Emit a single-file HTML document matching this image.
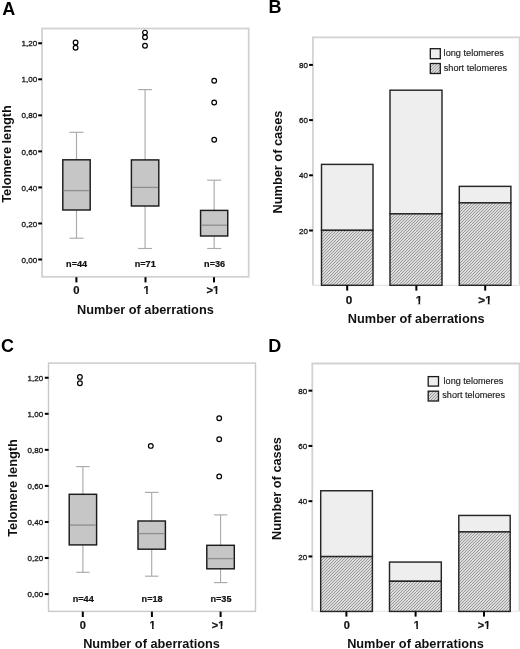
<!DOCTYPE html>
<html><head><meta charset="utf-8"><style>
html,body{margin:0;padding:0;background:#fff;}
body{width:520px;height:649px;overflow:hidden;}
svg{display:block;font-family:"Liberation Sans", sans-serif;will-change:transform;}
</style></head><body>
<svg width="520" height="649" viewBox="0 0 520 649">
<defs>
<pattern id="hatch" patternUnits="userSpaceOnUse" width="3" height="3">
<rect width="3" height="3" fill="#f8f8f8"/>
<path d="M-1,1 L1,-1 M0,3 L3,0 M2,4 L4,2" stroke="#969696" stroke-width="1.1"/>
</pattern>
</defs>
<rect width="520" height="649" fill="#fff"/>
<text x="2.2" y="14.7" font-size="18.0" font-weight="bold" text-anchor="start" fill="#000">A</text>
<rect x="42" y="28.5" width="206.7" height="248.3" fill="none" stroke="#d2d2d2" stroke-width="1.8"/>
<rect x="38.2" y="258.5" width="3.8" height="2" fill="#000"/>
<text x="37.2" y="262.65" font-size="8" font-weight="normal" text-anchor="end" fill="#1a1a1a" stroke="#1a1a1a" stroke-width="0.32">0,00</text>
<rect x="38.2" y="222.46" width="3.8" height="2" fill="#000"/>
<text x="37.2" y="226.61" font-size="8" font-weight="normal" text-anchor="end" fill="#1a1a1a" stroke="#1a1a1a" stroke-width="0.32">0,20</text>
<rect x="38.2" y="186.42000000000002" width="3.8" height="2" fill="#000"/>
<text x="37.2" y="190.57000000000002" font-size="8" font-weight="normal" text-anchor="end" fill="#1a1a1a" stroke="#1a1a1a" stroke-width="0.32">0,40</text>
<rect x="38.2" y="150.38" width="3.8" height="2" fill="#000"/>
<text x="37.2" y="154.53" font-size="8" font-weight="normal" text-anchor="end" fill="#1a1a1a" stroke="#1a1a1a" stroke-width="0.32">0,60</text>
<rect x="38.2" y="114.34" width="3.8" height="2" fill="#000"/>
<text x="37.2" y="118.49000000000001" font-size="8" font-weight="normal" text-anchor="end" fill="#1a1a1a" stroke="#1a1a1a" stroke-width="0.32">0,80</text>
<rect x="38.2" y="78.30000000000001" width="3.8" height="2" fill="#000"/>
<text x="37.2" y="82.45000000000002" font-size="8" font-weight="normal" text-anchor="end" fill="#1a1a1a" stroke="#1a1a1a" stroke-width="0.32">1,00</text>
<rect x="38.2" y="42.25999999999999" width="3.8" height="2" fill="#000"/>
<text x="37.2" y="46.40999999999999" font-size="8" font-weight="normal" text-anchor="end" fill="#1a1a1a" stroke="#1a1a1a" stroke-width="0.32">1,20</text>
<line x1="76.5" y1="132.3" x2="76.5" y2="159.8" stroke="#aaaaaa" stroke-width="1.15"/>
<line x1="76.5" y1="210.0" x2="76.5" y2="238.2" stroke="#aaaaaa" stroke-width="1.15"/>
<line x1="69.5" y1="132.3" x2="83.5" y2="132.3" stroke="#aaaaaa" stroke-width="1.15"/>
<line x1="69.5" y1="238.2" x2="83.5" y2="238.2" stroke="#aaaaaa" stroke-width="1.15"/>
<rect x="62.8" y="159.8" width="27.4" height="50.19999999999999" fill="#c6c6c6" stroke="#1c1c1c" stroke-width="1.45"/>
<line x1="63.55" y1="190.6" x2="89.45" y2="190.6" stroke="#8e8e8e" stroke-width="1.3"/>
<circle cx="75.6" cy="42.4" r="2.35" fill="none" stroke="#000" stroke-width="1.2"/>
<circle cx="75.6" cy="47.8" r="2.35" fill="none" stroke="#000" stroke-width="1.2"/>
<line x1="145.1" y1="89.6" x2="145.1" y2="159.9" stroke="#aaaaaa" stroke-width="1.15"/>
<line x1="145.1" y1="206.0" x2="145.1" y2="248.5" stroke="#aaaaaa" stroke-width="1.15"/>
<line x1="138.1" y1="89.6" x2="152.1" y2="89.6" stroke="#aaaaaa" stroke-width="1.15"/>
<line x1="138.1" y1="248.5" x2="152.1" y2="248.5" stroke="#aaaaaa" stroke-width="1.15"/>
<rect x="131.4" y="159.9" width="27.4" height="46.099999999999994" fill="#c6c6c6" stroke="#1c1c1c" stroke-width="1.45"/>
<line x1="132.15" y1="187.4" x2="158.04999999999998" y2="187.4" stroke="#8e8e8e" stroke-width="1.3"/>
<circle cx="145.0" cy="32.6" r="2.35" fill="none" stroke="#000" stroke-width="1.2"/>
<circle cx="145.0" cy="37.2" r="2.35" fill="none" stroke="#000" stroke-width="1.2"/>
<circle cx="145.0" cy="45.8" r="2.35" fill="none" stroke="#000" stroke-width="1.2"/>
<line x1="214.15" y1="180.2" x2="214.15" y2="210.4" stroke="#aaaaaa" stroke-width="1.15"/>
<line x1="214.15" y1="236.0" x2="214.15" y2="248.5" stroke="#aaaaaa" stroke-width="1.15"/>
<line x1="207.15" y1="180.2" x2="221.15" y2="180.2" stroke="#aaaaaa" stroke-width="1.15"/>
<line x1="207.15" y1="248.5" x2="221.15" y2="248.5" stroke="#aaaaaa" stroke-width="1.15"/>
<rect x="200.55" y="210.4" width="27.2" height="25.599999999999994" fill="#c6c6c6" stroke="#1c1c1c" stroke-width="1.45"/>
<line x1="201.3" y1="225.2" x2="227.0" y2="225.2" stroke="#8e8e8e" stroke-width="1.3"/>
<circle cx="214.2" cy="80.8" r="2.35" fill="none" stroke="#000" stroke-width="1.2"/>
<circle cx="214.2" cy="102.5" r="2.35" fill="none" stroke="#000" stroke-width="1.2"/>
<circle cx="214.2" cy="139.8" r="2.35" fill="none" stroke="#000" stroke-width="1.2"/>
<text x="76.6" y="266.6" font-size="9.1" font-weight="bold" text-anchor="middle" fill="#111" stroke="#111" stroke-width="0.22">n=44</text>
<text x="145.2" y="266.6" font-size="9.1" font-weight="bold" text-anchor="middle" fill="#111" stroke="#111" stroke-width="0.22">n=71</text>
<text x="214.6" y="266.6" font-size="9.1" font-weight="bold" text-anchor="middle" fill="#111" stroke="#111" stroke-width="0.22">n=36</text>
<rect x="75.4" y="277.2" width="2" height="5.2" fill="#000"/>
<text x="76.4" y="293.9" font-size="11.3" font-weight="bold" text-anchor="middle" fill="#111" stroke="#111" stroke-width="0.22">0</text>
<rect x="144.5" y="277.2" width="2" height="5.2" fill="#000"/>
<text x="146.7" y="293.9" font-size="11.3" font-weight="bold" text-anchor="middle" fill="#111" stroke="#111" stroke-width="0.22">1</text>
<rect x="143.37" y="291.25" width="2.78" height="3.35" fill="#fff"/>
<rect x="147.80" y="291.25" width="2.63" height="3.35" fill="#fff"/>
<rect x="213.0" y="277.2" width="2" height="5.2" fill="#000"/>
<text x="212.9" y="293.9" font-size="11.3" font-weight="bold" text-anchor="middle" fill="#111" stroke="#111" stroke-width="0.22">&gt;1</text>
<rect x="212.87" y="291.25" width="2.78" height="3.35" fill="#fff"/>
<rect x="217.30" y="291.25" width="2.63" height="3.35" fill="#fff"/>
<text x="145.4" y="313.5" font-size="12.75" font-weight="bold" text-anchor="middle" fill="#111">Number of aberrations</text>
<text x="11.2" y="154.0" font-size="12.75" font-weight="bold" text-anchor="middle" fill="#111" transform="rotate(-90 11.2 154.0)">Telomere length</text>
<text x="268.6" y="13.2" font-size="18.0" font-weight="bold" text-anchor="start" fill="#000">B</text>
<path d="M312.9,285.4 V37.3 H519.7 V285.4" fill="none" stroke="#d2d2d2" stroke-width="1.8"/>
<line x1="312.9" y1="285.4" x2="519.7" y2="285.4" stroke="#e4e4e4" stroke-width="1.1"/>
<rect x="309.09999999999997" y="229.5" width="3.8" height="2" fill="#000"/>
<text x="308.0" y="233.65" font-size="8" font-weight="normal" text-anchor="end" fill="#1a1a1a" stroke="#1a1a1a" stroke-width="0.32">20</text>
<rect x="309.09999999999997" y="174.3" width="3.8" height="2" fill="#000"/>
<text x="308.0" y="178.45000000000002" font-size="8" font-weight="normal" text-anchor="end" fill="#1a1a1a" stroke="#1a1a1a" stroke-width="0.32">40</text>
<rect x="309.09999999999997" y="119.1" width="3.8" height="2" fill="#000"/>
<text x="308.0" y="123.25" font-size="8" font-weight="normal" text-anchor="end" fill="#1a1a1a" stroke="#1a1a1a" stroke-width="0.32">60</text>
<rect x="309.09999999999997" y="63.900000000000006" width="3.8" height="2" fill="#000"/>
<text x="308.0" y="68.05000000000001" font-size="8" font-weight="normal" text-anchor="end" fill="#1a1a1a" stroke="#1a1a1a" stroke-width="0.32">80</text>
<rect x="321.5" y="164.388" width="51.5" height="65.952" fill="#eeeeee" stroke="#262626" stroke-width="1.45"/>
<rect x="321.5" y="230.34" width="51.5" height="54.96000000000001" fill="url(#hatch)" stroke="#262626" stroke-width="1.45"/>
<rect x="390.0" y="90.19200000000001" width="52.0" height="123.66" fill="#eeeeee" stroke="#262626" stroke-width="1.45"/>
<rect x="390.0" y="213.852" width="52.0" height="71.44800000000001" fill="url(#hatch)" stroke="#262626" stroke-width="1.45"/>
<rect x="459.3" y="186.372" width="51.599999999999966" height="16.488" fill="#eeeeee" stroke="#262626" stroke-width="1.45"/>
<rect x="459.3" y="202.86" width="51.599999999999966" height="82.44" fill="url(#hatch)" stroke="#262626" stroke-width="1.45"/>
<rect x="346.2" y="285.6" width="2" height="5.0" fill="#000"/>
<text x="349.0" y="304.0" font-size="11.7" font-weight="bold" text-anchor="middle" fill="#111" stroke="#111" stroke-width="0.25">0</text>
<rect x="415.35" y="285.6" width="2" height="5.0" fill="#000"/>
<text x="419.0" y="304.0" font-size="11.7" font-weight="bold" text-anchor="middle" fill="#111" stroke="#111" stroke-width="0.25">1</text>
<rect x="415.58" y="301.31" width="2.84" height="3.39" fill="#fff"/>
<rect x="420.13" y="301.31" width="2.70" height="3.39" fill="#fff"/>
<rect x="484.2" y="285.6" width="2" height="5.0" fill="#000"/>
<text x="485.0" y="304.0" font-size="11.7" font-weight="bold" text-anchor="middle" fill="#111" stroke="#111" stroke-width="0.25">&gt;1</text>
<rect x="485.00" y="301.31" width="2.84" height="3.39" fill="#fff"/>
<rect x="489.55" y="301.31" width="2.70" height="3.39" fill="#fff"/>
<text x="416.2" y="322.5" font-size="12.75" font-weight="bold" text-anchor="middle" fill="#111">Number of aberrations</text>
<text x="281.8" y="162.0" font-size="12.75" font-weight="bold" text-anchor="middle" fill="#111" transform="rotate(-90 281.8 162.0)">Number of cases</text>
<rect x="430.3" y="48.7" width="10" height="10" fill="#eeeeee" stroke="#1a1a1a" stroke-width="1.3"/>
<rect x="430.3" y="63.5" width="10" height="10" fill="url(#hatch)" stroke="#1a1a1a" stroke-width="1.3"/>
<text x="443.6" y="56.2" font-size="9.2" font-weight="normal" text-anchor="start" fill="#1a1a1a" stroke="#1a1a1a" stroke-width="0.15">long telomeres</text>
<text x="443.7" y="70.6" font-size="9.2" font-weight="normal" text-anchor="start" fill="#1a1a1a" stroke="#1a1a1a" stroke-width="0.15">short telomeres</text>
<text x="0.9" y="352.1" font-size="18.0" font-weight="bold" text-anchor="start" fill="#000">C</text>
<rect x="48.5" y="363.1" width="207.0" height="248.29999999999995" fill="none" stroke="#c9c9c9" stroke-width="1.4"/>
<rect x="44.800000000000004" y="593.1" width="3.8" height="2" fill="#000"/>
<text x="43.2" y="597.25" font-size="8" font-weight="normal" text-anchor="end" fill="#1a1a1a" stroke="#1a1a1a" stroke-width="0.32">0,00</text>
<rect x="44.800000000000004" y="557.04" width="3.8" height="2" fill="#000"/>
<text x="43.2" y="561.1899999999999" font-size="8" font-weight="normal" text-anchor="end" fill="#1a1a1a" stroke="#1a1a1a" stroke-width="0.32">0,20</text>
<rect x="44.800000000000004" y="520.98" width="3.8" height="2" fill="#000"/>
<text x="43.2" y="525.13" font-size="8" font-weight="normal" text-anchor="end" fill="#1a1a1a" stroke="#1a1a1a" stroke-width="0.32">0,40</text>
<rect x="44.800000000000004" y="484.92" width="3.8" height="2" fill="#000"/>
<text x="43.2" y="489.07" font-size="8" font-weight="normal" text-anchor="end" fill="#1a1a1a" stroke="#1a1a1a" stroke-width="0.32">0,60</text>
<rect x="44.800000000000004" y="448.86" width="3.8" height="2" fill="#000"/>
<text x="43.2" y="453.01" font-size="8" font-weight="normal" text-anchor="end" fill="#1a1a1a" stroke="#1a1a1a" stroke-width="0.32">0,80</text>
<rect x="44.800000000000004" y="412.8" width="3.8" height="2" fill="#000"/>
<text x="43.2" y="416.95" font-size="8" font-weight="normal" text-anchor="end" fill="#1a1a1a" stroke="#1a1a1a" stroke-width="0.32">1,00</text>
<rect x="44.800000000000004" y="376.74" width="3.8" height="2" fill="#000"/>
<text x="43.2" y="380.89" font-size="8" font-weight="normal" text-anchor="end" fill="#1a1a1a" stroke="#1a1a1a" stroke-width="0.32">1,20</text>
<line x1="82.9" y1="466.6" x2="82.9" y2="494.3" stroke="#aaaaaa" stroke-width="1.15"/>
<line x1="82.9" y1="544.9" x2="82.9" y2="572.3" stroke="#aaaaaa" stroke-width="1.15"/>
<line x1="76.2" y1="466.6" x2="89.60000000000001" y2="466.6" stroke="#aaaaaa" stroke-width="1.15"/>
<line x1="76.2" y1="572.3" x2="89.60000000000001" y2="572.3" stroke="#aaaaaa" stroke-width="1.15"/>
<rect x="69.2" y="494.3" width="27.4" height="50.599999999999966" fill="#c6c6c6" stroke="#1c1c1c" stroke-width="1.45"/>
<line x1="69.95" y1="525.1" x2="95.85000000000001" y2="525.1" stroke="#8e8e8e" stroke-width="1.3"/>
<circle cx="79.9" cy="376.9" r="2.35" fill="none" stroke="#000" stroke-width="1.2"/>
<circle cx="79.9" cy="383.3" r="2.35" fill="none" stroke="#000" stroke-width="1.2"/>
<line x1="151.7" y1="492.4" x2="151.7" y2="521.0" stroke="#aaaaaa" stroke-width="1.15"/>
<line x1="151.7" y1="549.2" x2="151.7" y2="576.2" stroke="#aaaaaa" stroke-width="1.15"/>
<line x1="145.0" y1="492.4" x2="158.39999999999998" y2="492.4" stroke="#aaaaaa" stroke-width="1.15"/>
<line x1="145.0" y1="576.2" x2="158.39999999999998" y2="576.2" stroke="#aaaaaa" stroke-width="1.15"/>
<rect x="138.0" y="521.0" width="27.4" height="28.200000000000045" fill="#c6c6c6" stroke="#1c1c1c" stroke-width="1.45"/>
<line x1="138.75" y1="533.6" x2="164.64999999999998" y2="533.6" stroke="#8e8e8e" stroke-width="1.3"/>
<circle cx="150.8" cy="445.9" r="2.35" fill="none" stroke="#000" stroke-width="1.2"/>
<line x1="220.55" y1="514.9" x2="220.55" y2="545.3" stroke="#aaaaaa" stroke-width="1.15"/>
<line x1="220.55" y1="568.8" x2="220.55" y2="582.6" stroke="#aaaaaa" stroke-width="1.15"/>
<line x1="213.85000000000002" y1="514.9" x2="227.25" y2="514.9" stroke="#aaaaaa" stroke-width="1.15"/>
<line x1="213.85000000000002" y1="582.6" x2="227.25" y2="582.6" stroke="#aaaaaa" stroke-width="1.15"/>
<rect x="206.8" y="545.3" width="27.5" height="23.5" fill="#c6c6c6" stroke="#1c1c1c" stroke-width="1.45"/>
<line x1="207.55" y1="558.6" x2="233.55" y2="558.6" stroke="#8e8e8e" stroke-width="1.3"/>
<circle cx="219.2" cy="418.2" r="2.35" fill="none" stroke="#000" stroke-width="1.2"/>
<circle cx="219.2" cy="439.2" r="2.35" fill="none" stroke="#000" stroke-width="1.2"/>
<circle cx="219.2" cy="476.4" r="2.35" fill="none" stroke="#000" stroke-width="1.2"/>
<text x="83.2" y="601.8" font-size="9.1" font-weight="bold" text-anchor="middle" fill="#111" stroke="#111" stroke-width="0.22">n=44</text>
<text x="152.1" y="601.8" font-size="9.1" font-weight="bold" text-anchor="middle" fill="#111" stroke="#111" stroke-width="0.22">n=18</text>
<text x="221.0" y="601.8" font-size="9.1" font-weight="bold" text-anchor="middle" fill="#111" stroke="#111" stroke-width="0.22">n=35</text>
<rect x="81.8" y="611.6" width="2" height="5.4" fill="#000"/>
<text x="82.7" y="628.6" font-size="11" font-weight="bold" text-anchor="middle" fill="#111" stroke="#111" stroke-width="0.22">0</text>
<rect x="150.9" y="611.6" width="2" height="5.4" fill="#000"/>
<text x="152.6" y="628.6" font-size="11" font-weight="bold" text-anchor="middle" fill="#111" stroke="#111" stroke-width="0.22">1</text>
<rect x="149.33" y="625.98" width="2.72" height="3.32" fill="#fff"/>
<rect x="153.67" y="625.98" width="2.58" height="3.32" fill="#fff"/>
<rect x="219.6" y="611.6" width="2" height="5.4" fill="#000"/>
<text x="218.0" y="628.6" font-size="11" font-weight="bold" text-anchor="middle" fill="#111" stroke="#111" stroke-width="0.22">&gt;1</text>
<rect x="217.95" y="625.98" width="2.72" height="3.32" fill="#fff"/>
<rect x="222.28" y="625.98" width="2.58" height="3.32" fill="#fff"/>
<text x="151.5" y="648.4" font-size="12.75" font-weight="bold" text-anchor="middle" fill="#111">Number of aberrations</text>
<text x="17.2" y="488.0" font-size="12.75" font-weight="bold" text-anchor="middle" fill="#111" transform="rotate(-90 17.2 488.0)">Telomere length</text>
<text x="268.2" y="351.6" font-size="18.0" font-weight="bold" text-anchor="start" fill="#000">D</text>
<path d="M312.3,611.3 V363.5 H519.5 V611.3" fill="none" stroke="#d2d2d2" stroke-width="1.8"/>
<line x1="312.3" y1="611.3" x2="519.5" y2="611.3" stroke="#e4e4e4" stroke-width="1.1"/>
<rect x="308.5" y="555.44" width="3.8" height="2" fill="#000"/>
<text x="307.2" y="559.59" font-size="8" font-weight="normal" text-anchor="end" fill="#1a1a1a" stroke="#1a1a1a" stroke-width="0.32">20</text>
<rect x="308.5" y="500.18000000000006" width="3.8" height="2" fill="#000"/>
<text x="307.2" y="504.33000000000004" font-size="8" font-weight="normal" text-anchor="end" fill="#1a1a1a" stroke="#1a1a1a" stroke-width="0.32">40</text>
<rect x="308.5" y="444.9200000000001" width="3.8" height="2" fill="#000"/>
<text x="307.2" y="449.07000000000005" font-size="8" font-weight="normal" text-anchor="end" fill="#1a1a1a" stroke="#1a1a1a" stroke-width="0.32">60</text>
<rect x="308.5" y="389.6600000000001" width="3.8" height="2" fill="#000"/>
<text x="307.2" y="393.81000000000006" font-size="8" font-weight="normal" text-anchor="end" fill="#1a1a1a" stroke="#1a1a1a" stroke-width="0.32">80</text>
<rect x="320.7" y="490.75800000000004" width="51.69999999999999" height="65.832" fill="#eeeeee" stroke="#262626" stroke-width="1.45"/>
<rect x="320.7" y="556.59" width="51.69999999999999" height="54.860000000000014" fill="url(#hatch)" stroke="#262626" stroke-width="1.45"/>
<rect x="389.5" y="562.076" width="51.80000000000001" height="19.201000000000022" fill="#eeeeee" stroke="#262626" stroke-width="1.45"/>
<rect x="389.5" y="581.277" width="51.80000000000001" height="30.173000000000002" fill="url(#hatch)" stroke="#262626" stroke-width="1.45"/>
<rect x="458.8" y="515.445" width="51.39999999999998" height="16.45799999999997" fill="#eeeeee" stroke="#262626" stroke-width="1.45"/>
<rect x="458.8" y="531.903" width="51.39999999999998" height="79.54700000000003" fill="url(#hatch)" stroke="#262626" stroke-width="1.45"/>
<rect x="345.4" y="611.6" width="2" height="5.0" fill="#000"/>
<text x="346.7" y="629.2" font-size="11" font-weight="bold" text-anchor="middle" fill="#111" stroke="#111" stroke-width="0.22">0</text>
<rect x="414.6" y="611.6" width="2" height="5.0" fill="#000"/>
<text x="416.9" y="629.2" font-size="11" font-weight="bold" text-anchor="middle" fill="#111" stroke="#111" stroke-width="0.22">1</text>
<rect x="413.63" y="626.58" width="2.72" height="3.32" fill="#fff"/>
<rect x="417.97" y="626.58" width="2.58" height="3.32" fill="#fff"/>
<rect x="483.0" y="611.6" width="2" height="5.0" fill="#000"/>
<text x="484.0" y="629.2" font-size="11" font-weight="bold" text-anchor="middle" fill="#111" stroke="#111" stroke-width="0.22">&gt;1</text>
<rect x="483.95" y="626.58" width="2.72" height="3.32" fill="#fff"/>
<rect x="488.28" y="626.58" width="2.58" height="3.32" fill="#fff"/>
<text x="415.5" y="647.7" font-size="12.75" font-weight="bold" text-anchor="middle" fill="#111">Number of aberrations</text>
<text x="281.4" y="488.5" font-size="12.75" font-weight="bold" text-anchor="middle" fill="#111" transform="rotate(-90 281.4 488.5)">Number of cases</text>
<rect x="428.2" y="376.6" width="10.3" height="9.5" fill="#eeeeee" stroke="#1a1a1a" stroke-width="1.3"/>
<rect x="428.2" y="391.2" width="10.3" height="9.8" fill="url(#hatch)" stroke="#1a1a1a" stroke-width="1.3"/>
<text x="443.6" y="384.3" font-size="9.1" font-weight="normal" text-anchor="start" fill="#1a1a1a" stroke="#1a1a1a" stroke-width="0.15">long telomeres</text>
<text x="442.3" y="398.4" font-size="9.1" font-weight="normal" text-anchor="start" fill="#1a1a1a" stroke="#1a1a1a" stroke-width="0.15">short telomeres</text>
</svg>
</body></html>
